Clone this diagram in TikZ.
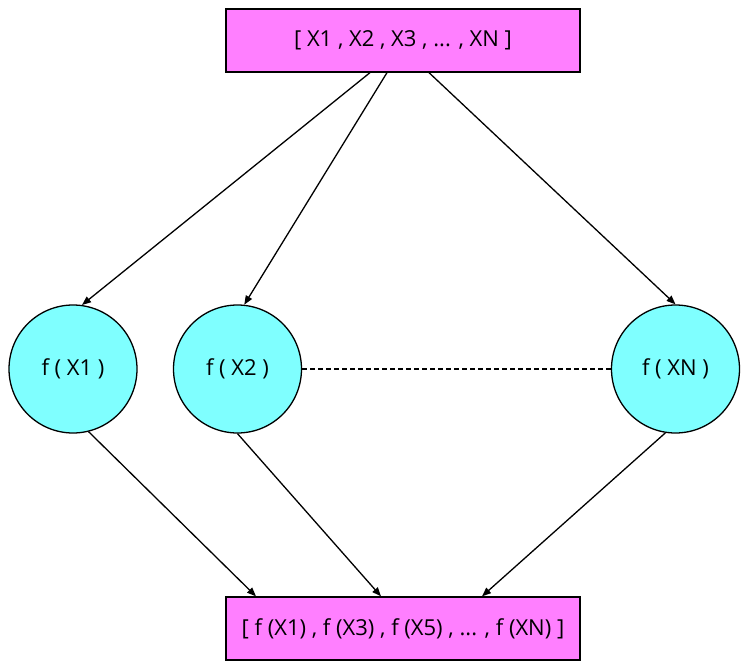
\documentclass[tikz,border=0pt]{standalone}
\usepackage{fontspec}
\setmainfont{Open Sans}
\usetikzlibrary{arrows.meta}
\definecolor{boxmag}{HTML}{FF7FFF}
\definecolor{circcyan}{HTML}{7FFFFF}
\begin{document}
\begin{tikzpicture}[x=1pt,y=1pt,
  listbox/.style={draw=black, fill=boxmag, line width=1.3pt, minimum width=354pt, minimum height=63pt, inner sep=0pt, font=\fontsize{22}{26}\selectfont},
  fcirc/.style={draw=black, fill=circcyan, circle, line width=1.3pt, minimum size=128pt, inner sep=0pt, font=\fontsize{22}{26}\selectfont},
  conn/.style={line width=1.3pt, -{Triangle[length=9pt,width=7pt]}},
  dashconn/.style={line width=1.3pt, dash pattern=on 5pt off 3pt}
]
\useasboundingbox (0,0) rectangle (750,-671);
\node[listbox] (top) at (403,-40.5) {[ X1 , X2 , X3 , ... , XN ]};
\node[listbox] (bot) at (403,-628.5) {[ f (X1) , f (X3) , f (X5) , ... , f (XN) ]};
\node[fcirc] (c1) at (73,-369) {f ( X1 )};
\node[fcirc] (c2) at (237.5,-369) {f ( X2 )};
\node[fcirc] (cN) at (675.5,-369) {f ( XN )};
\draw[conn] ([xshift=-33pt]top.south) -- (c1.82);
\draw[conn] ([xshift=-16pt]top.south) -- (c2.84);
\draw[conn] ([xshift=26pt]top.south) -- (cN.90);
\draw[conn] (c1.-76) -- ([xshift=-147pt]bot.north);
\draw[conn] (c2.-90) -- ([xshift=-22pt]bot.north);
\draw[conn] (cN.-99) -- ([xshift=79pt]bot.north);
\draw[dashconn] (c2.east) -- (cN.west);
\end{tikzpicture}
\end{document}
